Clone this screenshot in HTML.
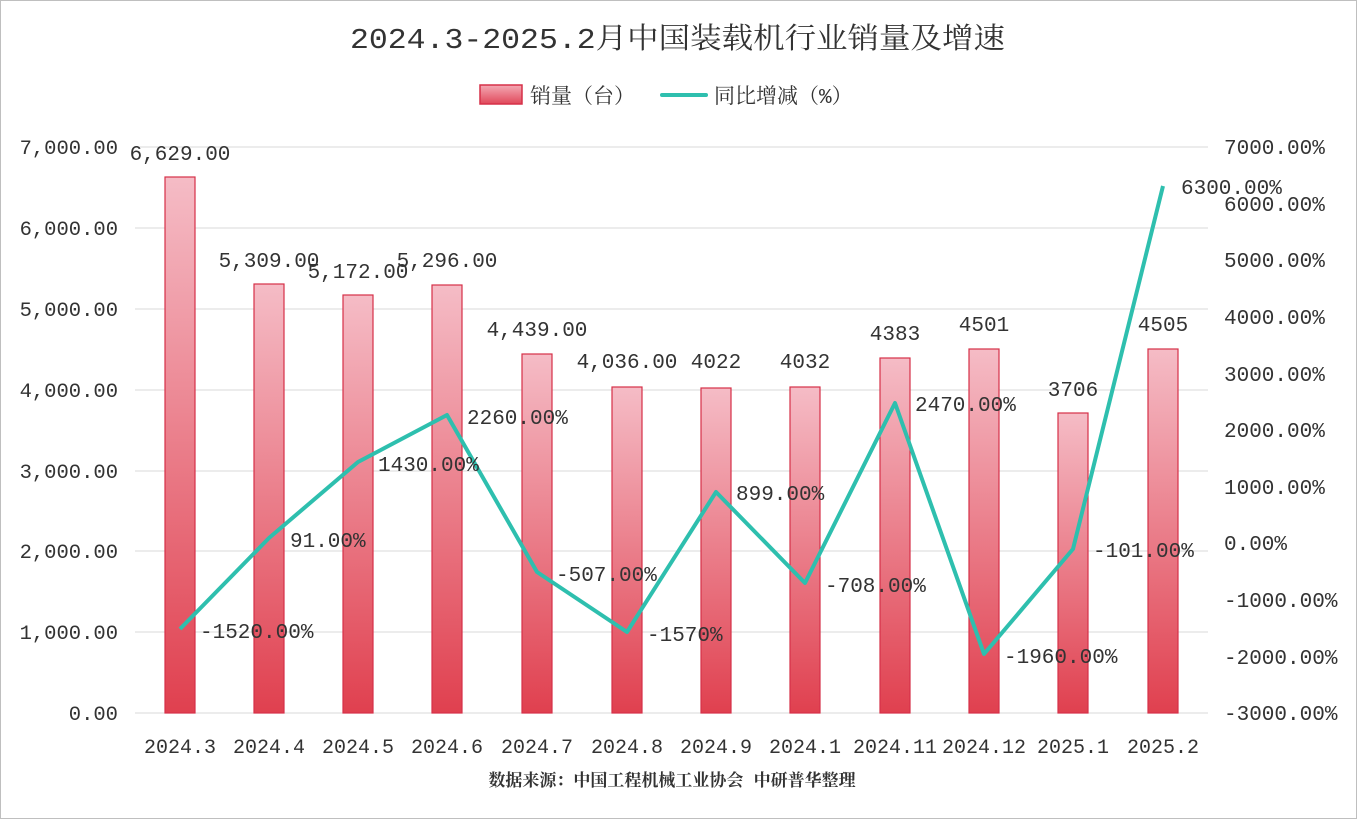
<!DOCTYPE html>
<html><head><meta charset="utf-8"><style>
html,body{margin:0;padding:0;background:#fff;}
svg{display:block;}
text{font-family:"Liberation Mono","Noto Serif CJK SC",monospace;fill:#333;}
</style></head><body>
<svg width="1357" height="819" xmlns="http://www.w3.org/2000/svg">
<defs>
<linearGradient id="g" x1="0" y1="0" x2="0" y2="1">
<stop offset="0" stop-color="#f5bcc6"/><stop offset="1" stop-color="#e0404f"/>
</linearGradient>
<linearGradient id="gl" x1="0" y1="0" x2="0" y2="1">
<stop offset="0" stop-color="#f4a9b4"/><stop offset="1" stop-color="#e0485a"/>
</linearGradient>
</defs>
<rect x="0.5" y="0.5" width="1356" height="818" fill="#fff" stroke="#bfbfbf"/>
<text x="350" y="48" font-size="29" textLength="655" lengthAdjust="spacingAndGlyphs">2024.3-2025.2月中国装载机行业销量及增速</text>
<rect x="480" y="85" width="42" height="19" fill="url(#gl)" stroke="#d63048" stroke-width="1.5"/>
<text x="530" y="103" font-size="21">销量（台）</text>
<line x1="662" y1="95" x2="706" y2="95" stroke="#2ebfae" stroke-width="4" stroke-linecap="round"/>
<text x="714" y="103" font-size="21">同比增减（%）</text>
<g stroke="#d9d9d9" stroke-width="1">
<line x1="135" y1="147" x2="1208" y2="147"/><line x1="135" y1="228" x2="1208" y2="228"/>
<line x1="135" y1="309" x2="1208" y2="309"/><line x1="135" y1="390" x2="1208" y2="390"/>
<line x1="135" y1="471" x2="1208" y2="471"/><line x1="135" y1="551" x2="1208" y2="551"/>
<line x1="135" y1="632" x2="1208" y2="632"/><line x1="135" y1="713" x2="1208" y2="713"/>
</g>
<g font-size="20.5" text-anchor="end">
<text x="118" y="154">7,000.00</text><text x="118" y="235">6,000.00</text>
<text x="118" y="316">5,000.00</text><text x="118" y="397">4,000.00</text>
<text x="118" y="478">3,000.00</text><text x="118" y="558">2,000.00</text>
<text x="118" y="639">1,000.00</text><text x="118" y="720">0.00</text>
</g>
<g font-size="21">
<text x="1224" y="154">7000.00%</text><text x="1224" y="211">6000.00%</text>
<text x="1224" y="267">5000.00%</text><text x="1224" y="324">4000.00%</text>
<text x="1224" y="381">3000.00%</text><text x="1224" y="437">2000.00%</text>
<text x="1224" y="494">1000.00%</text><text x="1224" y="550">0.00%</text>
<text x="1224" y="607">-1000.00%</text><text x="1224" y="664">-2000.00%</text>
<text x="1224" y="720">-3000.00%</text>
</g>
<g fill="url(#g)" stroke="#d63048" stroke-width="1.2">
<rect x="165" y="177" width="30" height="536"/>
<rect x="254" y="284" width="30" height="429"/>
<rect x="343" y="295" width="30" height="418"/>
<rect x="432" y="285" width="30" height="428"/>
<rect x="522" y="354" width="30" height="359"/>
<rect x="612" y="387" width="30" height="326"/>
<rect x="701" y="388" width="30" height="325"/>
<rect x="790" y="387" width="30" height="326"/>
<rect x="880" y="358" width="30" height="355"/>
<rect x="969" y="349" width="30" height="364"/>
<rect x="1058" y="413" width="30" height="300"/>
<rect x="1148" y="349" width="30" height="364"/>
</g>
<g font-size="21" text-anchor="middle">
<text x="180" y="160">6,629.00</text><text x="269" y="267">5,309.00</text>
<text x="358" y="278">5,172.00</text><text x="447" y="267">5,296.00</text>
<text x="537" y="336">4,439.00</text><text x="627" y="368">4,036.00</text>
<text x="716" y="368">4022</text><text x="805" y="368">4032</text>
<text x="895" y="340">4383</text><text x="984" y="331">4501</text>
<text x="1073" y="396">3706</text><text x="1163" y="331">4505</text>
</g>
<polyline fill="none" stroke="#2ebfae" stroke-width="4" stroke-linejoin="round" points="180,629 269,538 358,462 447,415 537,572 627,632 716,492 805,583 895,403 984,654 1073,549 1163,186"/>
<g font-size="21">
<text x="200" y="638">-1520.00%</text><text x="290" y="547">91.00%</text>
<text x="378" y="471">1430.00%</text><text x="467" y="424">2260.00%</text>
<text x="556" y="581">-507.00%</text><text x="647" y="641">-1570%</text>
<text x="736" y="500">899.00%</text><text x="825" y="592">-708.00%</text>
<text x="915" y="411">2470.00%</text><text x="1004" y="663">-1960.00%</text>
<text x="1093" y="557">-101.00%</text><text x="1181" y="194">6300.00%</text>
</g>
<g font-size="20" text-anchor="middle">
<text x="180" y="753">2024.3</text><text x="269" y="753">2024.4</text>
<text x="358" y="753">2024.5</text><text x="447" y="753">2024.6</text>
<text x="537" y="753">2024.7</text><text x="627" y="753">2024.8</text>
<text x="716" y="753">2024.9</text><text x="805" y="753">2024.1</text>
<text x="895" y="753">2024.11</text><text x="984" y="753">2024.12</text>
<text x="1073" y="753">2025.1</text><text x="1163" y="753">2025.2</text>
</g>
<text x="672" y="786" font-size="17" font-weight="bold" text-anchor="middle">数据来源：中国工程机械工业协会 中研普华整理</text>
</svg>
</body></html>
